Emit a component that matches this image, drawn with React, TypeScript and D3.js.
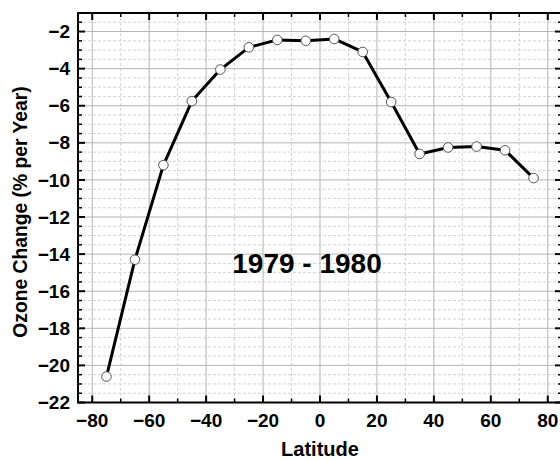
import React from "react";
import * as d3 from "d3";

const latitudes = [-75, -65, -55, -45, -35, -25, -15, -5, 5, 15, 25, 35, 45, 55, 65, 75];
const ozoneChange = [-20.6, -14.3, -9.2, -5.75, -4.05, -2.85, -2.45, -2.5, -2.4, -3.1, -5.8, -8.6, -8.25, -8.2, -8.4, -9.9];
const xTicks = [-80, -60, -40, -20, 0, 20, 40, 60, 80];
const xMinorTicks = [-70, -50, -30, -10, 10, 30, 50, 70];
const yTicks = [-22, -20, -18, -16, -14, -12, -10, -8, -6, -4, -2];
const annotation = "1979 - 1980";
const xTitle = "Latitude";
const yTitle = "Ozone Change (% per Year)";

const W = 560;
const H = 461;
const left = 78;
const top = 13;
const right = 562;
const bottom = 402.5;
const FONT = "'Liberation Sans', Arial, sans-serif";

export default function App() {
  const x = d3.scaleLinear().domain([-85, 85]).range([left, right]);
  const y = d3.scaleLinear().domain([-22, -1]).range([bottom, top]);
  const yMinor = d3.range(-22, -1 + 0.001, 0.5).filter((v) => !yTicks.includes(v));
  const line = d3
    .line<number>()
    .x((_, i) => x(latitudes[i]))
    .y((d) => y(d));
  const fmt = (v: number) => (v < 0 ? "\u2212" + Math.abs(v) : String(v));

  return (
    <svg
      width={W}
      height={H}
      style={{ position: "absolute", left: 0, top: 0, background: "#fff" }}
      fontFamily={FONT}
    >
      <rect x={0} y={0} width={W} height={H} fill="#fff" />
      {/* minor grid */}
      {xMinorTicks.map((v) => (
        <line key={"xm" + v} x1={x(v)} x2={x(v)} y1={top} y2={bottom} stroke="#d4d4d4" strokeWidth={1} strokeDasharray="3,2" />
      ))}
      {yMinor.map((v) => (
        <line key={"ym" + v} x1={left} x2={right} y1={y(v)} y2={y(v)} stroke="#d4d4d4" strokeWidth={1} strokeDasharray="3,2" />
      ))}
      {/* major grid */}
      {xTicks.map((v) => (
        <line key={"xg" + v} x1={x(v)} x2={x(v)} y1={top} y2={bottom} stroke="#b4b4b4" strokeWidth={1} />
      ))}
      {yTicks.map((v) => (
        <line key={"yg" + v} x1={left} x2={right} y1={y(v)} y2={y(v)} stroke="#b4b4b4" strokeWidth={1} />
      ))}
      {/* ticks */}
      {xTicks.map((v) => (
        <g key={"xt" + v}>
          <line x1={x(v)} x2={x(v)} y1={bottom} y2={bottom - 7} stroke="#000" strokeWidth={2} />
          <line x1={x(v)} x2={x(v)} y1={top} y2={top + 7} stroke="#000" strokeWidth={2} />
        </g>
      ))}
      {xMinorTicks.map((v) => (
        <g key={"xmt" + v}>
          <line x1={x(v)} x2={x(v)} y1={bottom} y2={bottom - 4} stroke="#000" strokeWidth={1.5} />
          <line x1={x(v)} x2={x(v)} y1={top} y2={top + 4} stroke="#000" strokeWidth={1.5} />
        </g>
      ))}
      {yTicks.map((v) => (
        <g key={"yt" + v}>
          <line x1={left} x2={left + 7} y1={y(v)} y2={y(v)} stroke="#000" strokeWidth={2} />
          <line x1={right} x2={right - 7} y1={y(v)} y2={y(v)} stroke="#000" strokeWidth={2} />
        </g>
      ))}
      {yMinor.map((v) => (
        <g key={"ymt" + v}>
          <line x1={left} x2={left + 4} y1={y(v)} y2={y(v)} stroke="#000" strokeWidth={1.5} />
          <line x1={right} x2={right - 4} y1={y(v)} y2={y(v)} stroke="#000" strokeWidth={1.5} />
        </g>
      ))}
      {/* frame */}
      <rect x={left} y={top} width={right - left} height={bottom - top} fill="none" stroke="#000" strokeWidth={2} />
      {/* data */}
      <path d={line(ozoneChange) || ""} fill="none" stroke="#000" strokeWidth={3} strokeLinejoin="round" />
      {ozoneChange.map((v, i) => (
        <circle key={"p" + i} cx={x(latitudes[i])} cy={y(v)} r={4.8} fill="#fff" stroke="#555" strokeWidth={1} />
      ))}
      {/* tick labels */}
      {xTicks.map((v) => (
        <text key={"xl" + v} x={x(v)} y={427} textAnchor="middle" fontSize={19} fontWeight="bold" fill="#000">
          {fmt(v)}
        </text>
      ))}
      {yTicks.map((v) => (
        <text key={"yl" + v} x={70} y={y(v) + 6.6} textAnchor="end" fontSize={19} fontWeight="bold" fill="#000">
          {fmt(v)}
        </text>
      ))}
      {/* titles */}
      <text x={320} y={456} textAnchor="middle" fontSize={20} fontWeight="bold" fill="#000">
        {xTitle}
      </text>
      <text
        transform={`translate(27,212) rotate(-90)`}
        textAnchor="middle"
        fontSize={19.3}
        fontWeight="bold"
        fill="#000"
      >
        {yTitle}
      </text>
      <text x={307} y={272.5} textAnchor="middle" fontSize={28} fontWeight="bold" fill="#000">
        {annotation}
      </text>
    </svg>
  );
}
